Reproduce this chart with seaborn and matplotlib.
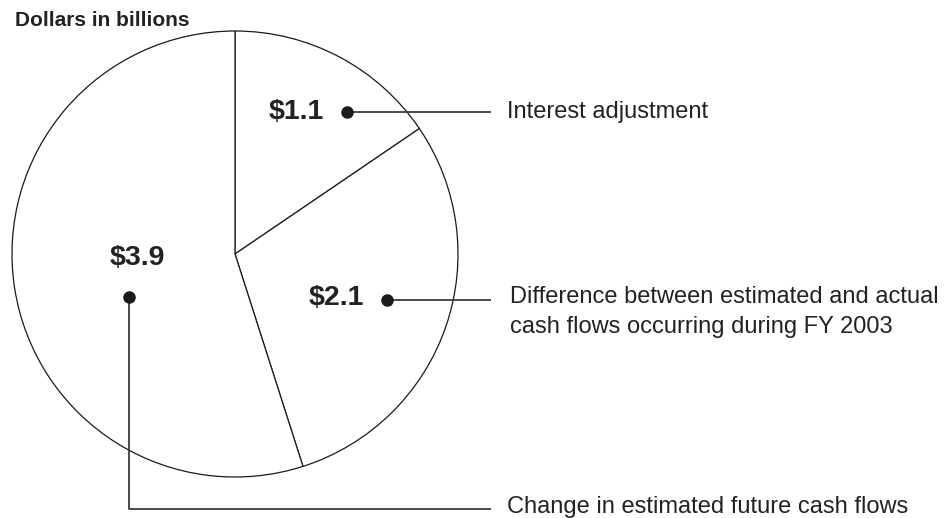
import matplotlib
matplotlib.use("Agg")
import matplotlib.pyplot as plt
import seaborn as sns

# ==============================
# DATA
# ==============================

values = [1.1, 2.1, 3.9]
value_labels = ["$1.1", "$2.1", "$3.9"]
descriptions = [
    "Interest adjustment",
    "Difference between estimated and actual\ncash flows occurring during FY 2003",
    "Change in estimated future cash flows",
]
unit_label = "Dollars in billions"

# ==============================
# STYLE
# ==============================

sns.set_style("white")
plt.rcParams["font.family"] = ["Liberation Sans", "DejaVu Sans"]

W, H = 948, 518
fig = plt.figure(figsize=(W / 100, H / 100), dpi=100)
ax = fig.add_axes([0, 0, 1, 1])

# ==============================
# PIE
# ==============================

# y axis gets inverted below, so -90 / counterclock=True reads as top + clockwise
ax.pie(
    values,
    center=(235, 254),
    radius=223,
    startangle=-90,
    counterclock=True,
    colors=["white"] * len(values),
    wedgeprops=dict(edgecolor="#1a1a1a", linewidth=0.9),
    frame=True,
)
# pixel-like coordinates, y grows downward
ax.set_xlim(0, W)
ax.set_ylim(H, 0)
ax.set_axis_off()

# ==============================
# LABELS AND LEADERS
# ==============================

line_col = "#3c3c3c"
dot_kw = dict(marker="o", markersize=8, color="#1a1a1a", zorder=5)
line_kw = dict(color=line_col, linewidth=1.3, solid_capstyle="butt")
val_kw = dict(fontsize=20.5, fontweight="bold", color="#222222", ha="center", va="center")
txt_kw = dict(fontsize=17, color="#222222", ha="left", va="center")

text_x = 507
line_end = 491

# $1.1
ax.text(296, 112, value_labels[0], **val_kw)
ax.plot([347, line_end], [112, 112], **line_kw)
ax.plot([347], [112], **dot_kw)
ax.text(text_x, 112, descriptions[0], **txt_kw)

# $2.1
ax.text(336, 298, value_labels[1], **val_kw)
ax.plot([387, line_end], [300, 300], **line_kw)
ax.plot([387], [300], **dot_kw)
ax.text(text_x + 3, 312, descriptions[1], linespacing=1.45, **txt_kw)

# $3.9
ax.text(137, 258, value_labels[2], **val_kw)
ax.plot([129, 129, line_end], [297, 509, 509], **line_kw)
ax.plot([129], [297], **dot_kw)
ax.text(text_x, 507, descriptions[2], **txt_kw)

ax.text(15, 20, unit_label, fontsize=15, fontweight="bold", color="#222222",
        ha="left", va="center")

plt.savefig("out.png", dpi=100)
